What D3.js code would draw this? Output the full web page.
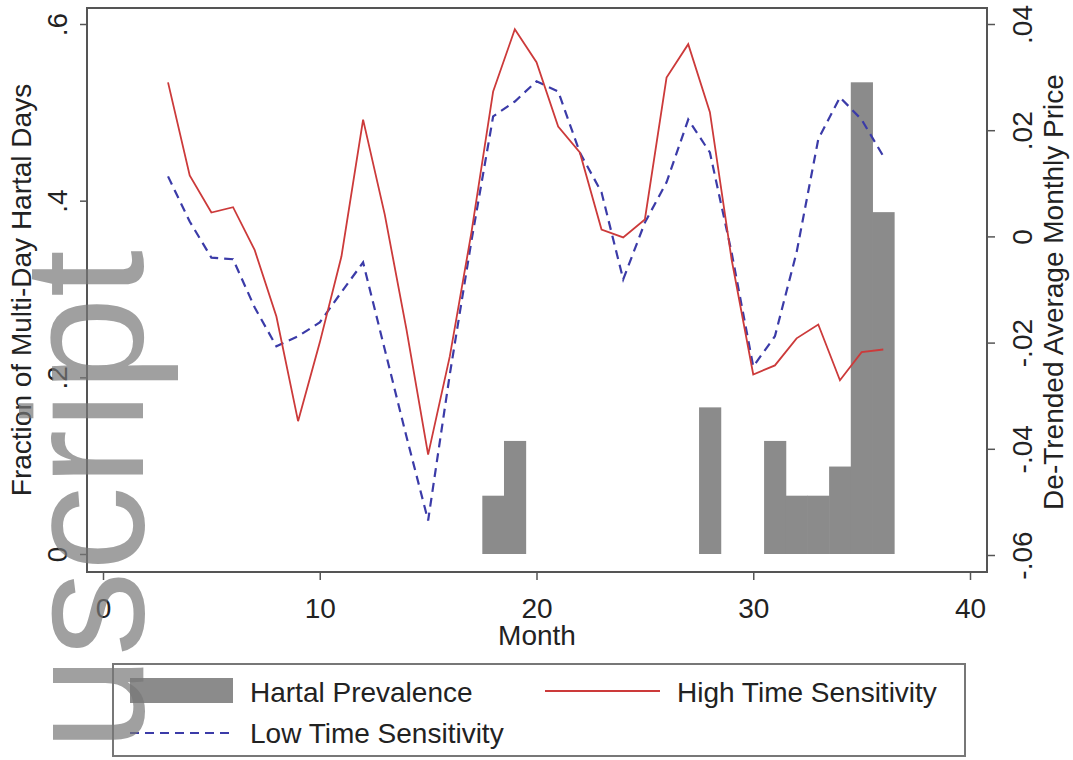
<!DOCTYPE html>
<html>
<head>
<meta charset="utf-8">
<script src="https://cdn.jsdelivr.net/npm/d3@7"></script>
<style>
  body { margin: 0; background: #fff; }
  text { font-family: "Liberation Sans", Arial, sans-serif; }
</style>
</head>
<body>
<div id="chart"></div>
<script>
// months with price series (months 3..36)
const months = [3, 4, 5, 6, 7, 8, 9, 10, 11, 12, 13, 14, 15, 16, 17, 18, 19, 20,
  21, 22, 23, 24, 25, 26, 27, 28, 29, 30, 31, 32, 33, 34, 35, 36];
// de-trended average monthly price, high time sensitivity goods
const highSens = [0.0290, 0.0115, 0.0045, 0.0055, -0.0026, -0.0151, -0.0348, -0.0200,
  -0.0038, 0.0220, 0.0041, -0.0175, -0.0411, -0.0226, 0.0008, 0.0273, 0.0390, 0.0328,
  0.0207, 0.0158, 0.0013, -0.0002, 0.0032, 0.0299, 0.0362, 0.0234, -0.0043, -0.0260,
  -0.0243, -0.0192, -0.0166, -0.0271, -0.0218, -0.0213];
// de-trended average monthly price, low time sensitivity goods
const lowSens = [0.0113, 0.0028, -0.0040, -0.0043, -0.0134, -0.0207, -0.0188, -0.0162,
  -0.0105, -0.0049, -0.0213, -0.0377, -0.0535, -0.0260, -0.0008, 0.0226, 0.0254, 0.0292,
  0.0273, 0.0158, 0.0083, -0.0081, 0.0026, 0.0102, 0.0220, 0.0158, -0.0030, -0.0245,
  -0.0188, -0.0030, 0.0183, 0.0262, 0.0220, 0.0151];
// hartal prevalence (fraction of multi-day hartal days)
const hartalMonths = [18, 19, 28, 31, 32, 33, 34, 35, 36];
const hartalShare = [0.066, 0.128, 0.166, 0.128, 0.066, 0.066, 0.099, 0.534, 0.387];

const xTicks = [0, 10, 20, 30, 40];
const leftTicks = [0, 0.2, 0.4, 0.6];
const leftLabels = ["0", ".2", ".4", ".6"];
const rightTicks = [-0.06, -0.04, -0.02, 0, 0.02, 0.04];
const rightLabels = ["-.06", "-.04", "-.02", "0", ".02", ".04"];

const W = 1073, H = 760;
const frame = { left: 87, right: 987, top: 8, bottom: 572 };
const fs = 28;

const svg = d3.select("#chart").append("svg")
  .attr("width", W)
  .attr("height", H);

svg.append("rect").attr("width", W).attr("height", H).attr("fill", "#fff");

const x = d3.scaleLinear().domain([0, 40]).range([103, 970]);
const yL = d3.scaleLinear().domain([0, 0.6]).range([554, 24]);
const yR = d3.scaleLinear().domain([-0.06, 0.04]).range([555, 24]);

// bars
svg.append("g").selectAll("rect")
  .data(hartalMonths)
  .join("rect")
  .attr("x", d => x(d - 0.5))
  .attr("width", d => x(d + 0.5) - x(d - 0.5) + 0.5)
  .attr("y", (d, i) => yL(hartalShare[i]))
  .attr("height", (d, i) => yL(0) - yL(hartalShare[i]))
  .attr("fill", "#8b8b8b");

const line = d3.line()
  .x(d => x(d[0]))
  .y(d => yR(d[1]));

svg.append("path")
  .datum(months.map((m, i) => [m, lowSens[i]]))
  .attr("fill", "none")
  .attr("stroke", "#3b3ba8")
  .attr("stroke-width", 2.2)
  .attr("stroke-dasharray", "9,6")
  .attr("d", line);

svg.append("path")
  .datum(months.map((m, i) => [m, highSens[i]]))
  .attr("fill", "none")
  .attr("stroke", "#cc3a3a")
  .attr("stroke-width", 1.8)
  .attr("d", line);

// frame
svg.append("rect")
  .attr("x", frame.left).attr("y", frame.top)
  .attr("width", frame.right - frame.left)
  .attr("height", frame.bottom - frame.top)
  .attr("fill", "none")
  .attr("stroke", "#555")
  .attr("stroke-width", 2);

// axes
const gx = svg.append("g")
  .attr("transform", `translate(0,${frame.bottom})`)
  .call(d3.axisBottom(x).tickValues(xTicks).tickSize(8).tickSizeOuter(0));
gx.select(".domain").remove();
gx.selectAll("line").attr("stroke", "#555").attr("stroke-width", 1.5);
gx.selectAll("text")
  .attr("y", null).attr("dy", null)
  .attr("transform", "translate(0,46)")
  .attr("font-size", fs).attr("fill", "#222");

const gl = svg.append("g")
  .attr("transform", `translate(${frame.left},0)`)
  .call(d3.axisLeft(yL).tickValues(leftTicks).tickFormat((d, i) => leftLabels[i]).tickSize(7).tickSizeOuter(0));
gl.select(".domain").remove();
gl.selectAll("line").attr("stroke", "#555").attr("stroke-width", 1.5);
gl.selectAll("text")
  .attr("x", null).attr("dy", null)
  .attr("text-anchor", "middle")
  .attr("transform", "translate(-20,0) rotate(-90)")
  .attr("font-size", fs).attr("fill", "#222");

const gr = svg.append("g")
  .attr("transform", `translate(${frame.right},0)`)
  .call(d3.axisRight(yR).tickValues(rightTicks).tickFormat((d, i) => rightLabels[i]).tickSize(8).tickSizeOuter(0));
gr.select(".domain").remove();
gr.selectAll("line").attr("stroke", "#555").attr("stroke-width", 1.5);
gr.selectAll("text")
  .attr("x", null).attr("dy", null)
  .attr("text-anchor", "middle")
  .attr("transform", "translate(45,0) rotate(-90)")
  .attr("font-size", fs).attr("fill", "#222");

// axis titles
svg.append("text")
  .attr("transform", "translate(31,290) rotate(-90)")
  .attr("text-anchor", "middle")
  .attr("font-size", fs).attr("fill", "#222")
  .text("Fraction of Multi-Day Hartal Days");

svg.append("text")
  .attr("transform", "translate(1063,292) rotate(-90)")
  .attr("text-anchor", "middle")
  .attr("font-size", fs).attr("fill", "#222")
  .text("De-Trended Average Monthly Price");

svg.append("text")
  .attr("x", 537).attr("y", 645)
  .attr("text-anchor", "middle")
  .attr("font-size", fs).attr("fill", "#222")
  .text("Month");

// legend
const lg = svg.append("g");
lg.append("rect")
  .attr("x", 113).attr("y", 664).attr("width", 852).attr("height", 92)
  .attr("fill", "#fff").attr("stroke", "#777").attr("stroke-width", 2);
lg.append("rect")
  .attr("x", 130).attr("y", 678).attr("width", 103).attr("height", 25)
  .attr("fill", "#8b8b8b");
lg.append("text").attr("x", 250).attr("y", 702)
  .attr("font-size", fs).attr("fill", "#222").text("Hartal Prevalence");
lg.append("line")
  .attr("x1", 545).attr("x2", 660).attr("y1", 691).attr("y2", 691)
  .attr("stroke", "#cc3a3a").attr("stroke-width", 1.8);
lg.append("text").attr("x", 677).attr("y", 702)
  .attr("font-size", fs).attr("fill", "#222").text("High Time Sensitivity");
lg.append("line")
  .attr("x1", 130).attr("x2", 233).attr("y1", 733).attr("y2", 733)
  .attr("stroke", "#3b3ba8").attr("stroke-width", 2.2).attr("stroke-dasharray", "9,6");
lg.append("text").attr("x", 250).attr("y", 743)
  .attr("font-size", fs).attr("fill", "#222").text("Low Time Sensitivity");

// watermark
svg.append("text")
  .attr("transform", "translate(143,250) rotate(-90)")
  .attr("text-anchor", "end")
  .attr("font-size", 170)
  .attr("fill", "#777")
  .attr("fill-opacity", 0.7)
  .text("Manuscript");
</script>
</body>
</html>
